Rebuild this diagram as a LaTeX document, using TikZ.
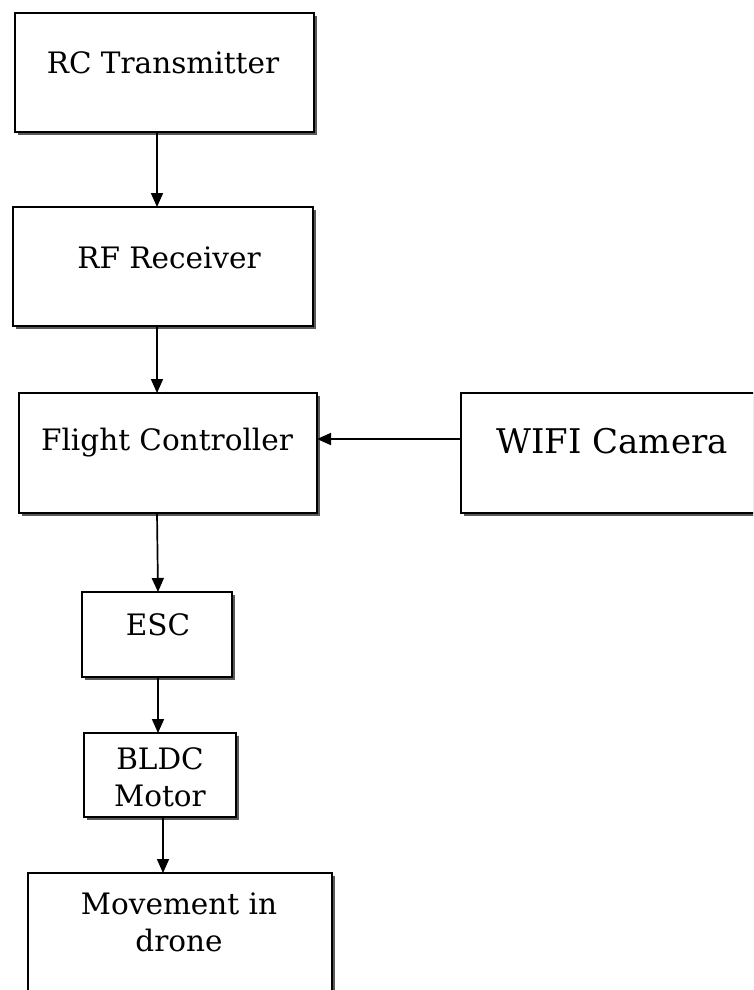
\documentclass[tikz,border=0pt]{standalone}
\usepackage{fontspec}
\setmainfont{DejaVu Serif}
\usetikzlibrary{arrows.meta,shadows}
\begin{document}
\begin{tikzpicture}[x=1pt,y=-1pt,
  box/.style={draw=black,line width=1.9pt,fill=white,
    drop shadow={shadow xshift=3pt,shadow yshift=-3pt,fill=black!65,opacity=1}},
  txt/.style={font=\fontsize{29.5}{37}\selectfont,align=center,inner sep=0pt},
  bigtxt/.style={font=\fontsize{34}{40}\selectfont,align=center,inner sep=0pt},
  conn/.style={line width=1.7pt,-{Triangle[length=14pt,width=12pt]}}]
\useasboundingbox (0,0) rectangle (753,990);
\clip (0,0) rectangle (753,990);
% boxes
\path[box] (15,13) rectangle (314,132);
\coordinate (rcT) at (157,13); \coordinate (rcB) at (157,132);
\path[box] (13,207) rectangle (313,326);
\coordinate (rfT) at (157,207); \coordinate (rfB) at (157,326);
\path[box] (19,393) rectangle (317,513);
\coordinate (fcT) at (157,393); \coordinate (fcB) at (157,513); \coordinate (fcR) at (317,439);
\path[box] (461,393) rectangle (762,513);
\coordinate (wfL) at (461,439);
\path[box] (82,592) rectangle (232,677);
\coordinate (escT) at (158,592); \coordinate (escB) at (158,677);
\path[box] (84,733) rectangle (236,817);
\coordinate (blT) at (158,733); \coordinate (blB) at (163,817);
\path[box] (28,873) rectangle (332,1010);
\coordinate (mvT) at (163,873);
% texts
\node[txt] (trc) at (163,63) {RC Transmitter};
\node[txt] (trf) at (169,258) {RF Receiver};
\node[txt] (tfc) at (167,443) {Flight Controller};
\node[bigtxt] (twf) at (612,441) {WIFI Camera};
\node[txt] (tesc) at (158,625) {ESC};
\node[txt] (tbl) at (160,777) {BLDC\\Motor};
\node[txt] (tmv) at (179,922) {Movement in\\drone};
% connectors
\draw[conn] (rcB) -- (rfT);
\draw[conn] (rfB) -- (fcT);
\draw[conn] (wfL) -- (fcR);
\draw[conn] (fcB) -- (escT);
\draw[conn] (escB) -- (blT);
\draw[conn] (blB) -- (mvT);
\end{tikzpicture}
\end{document}
